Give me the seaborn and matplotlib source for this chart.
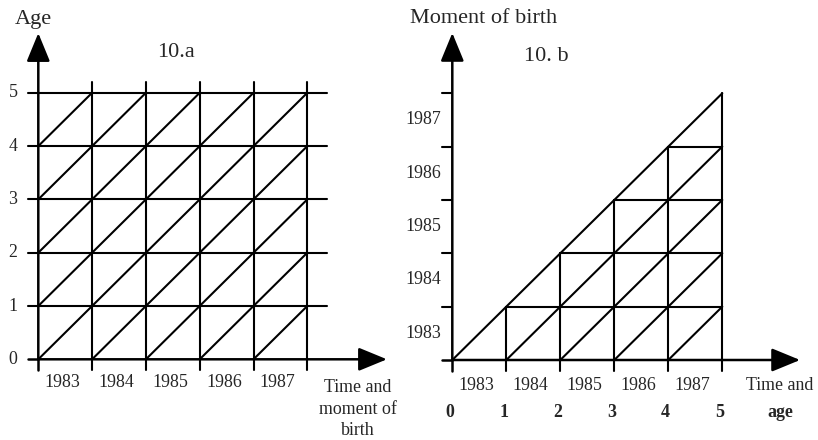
import numpy as np
import pandas as pd
import matplotlib
matplotlib.use("Agg")
import matplotlib.pyplot as plt
import seaborn as sns

# ---- data ----
years = [1983, 1984, 1985, 1986, 1987]
ages = [0, 1, 2, 3, 4, 5]
age_labels_b = ["0", "1", "2", "3", "4", "5"]
birth_years = [1983, 1984, 1985, 1986, 1987]

sns.set_theme(style="white")
plt.rcParams["font.family"] = ["Liberation Serif", "DejaVu Serif"]

W, H = 818, 440
fig = plt.figure(figsize=(W / 100, H / 100), dpi=100)

def make_axes(px0, px1, ox, oy, ux, uy):
    ax = fig.add_axes([px0 / W, 0, (px1 - px0) / W, 1])
    ax.set_xlim((px0 - ox) / ux, (px1 - ox) / ux)
    ax.set_ylim((oy - H) / uy, oy / uy)
    ax.set_axis_off()
    return ax

axA = make_axes(0, 409, 38.3, 359.3, 53.8, 53.3)
axB = make_axes(409, 818, 452.3, 360.0, 54.0, 53.35)

LW = 1.5
TICK = 12.9
TITLE = 16
n = len(years)
ext = 0.2  # how far lines overshoot the grid

def draw_segments(ax, segs):
    rows = []
    for k, ((x0, y0), (x1, y1)) in enumerate(segs):
        rows.append({"x": x0, "y": y0, "seg": k})
        rows.append({"x": x1, "y": y1, "seg": k})
    df = pd.DataFrame(rows)
    sns.lineplot(data=df, x="x", y="y", units="seg", estimator=None,
                 sort=False, color="black", lw=LW, ax=ax, legend=False)
    ax.set_xlabel("")
    ax.set_ylabel("")

def arrow(ax, start, tip):
    ax.annotate("", xy=tip, xytext=start,
                arrowprops=dict(arrowstyle="-|>,head_length=1.75,head_width=0.72",
                                mutation_scale=10, lw=1.8, color="black",
                                shrinkA=0, shrinkB=0))

# ---------------- Panel 10.a ----------------
segs = []
top = ages[-1]
for a in ages[1:]:
    segs.append(((-ext, a), (n + ext * 1.85, a)))
for i in range(1, n + 1):
    segs.append(((i, -ext), (i, top + ext)))
for i in range(n):
    for a in ages[:-1]:
        segs.append(((i, a), (i + 1, a + 1)))
draw_segments(axA, segs)
axA.plot([-ext, 0], [0, 0], color="black", lw=1.8)
axA.plot([0, 0], [-ext, 0], color="black", lw=1.8)
arrow(axA, (0, 0), (0, 6.12))
arrow(axA, (0, 0), (6.48, 0))

for a in ages:
    axA.text(-0.47, a, str(a), ha="center", va="center", fontsize=TICK)
for i, yr in enumerate(years):
    axA.text(i + 0.45, -0.43, str(yr), ha="center", va="center", fontsize=TICK)
axA.text(5.94, -0.37, "Time and\nmoment of\nbirth", ha="center", va="top",
         fontsize=TICK, linespacing=1.36)
axA.text(-0.1, 6.37, "Age", ha="center", va="center", fontsize=TITLE)
axA.text(2.56, 5.75, "10.a", ha="center", va="center", fontsize=TITLE)

# ---------------- Panel 10.b ----------------
segs = []
m = len(birth_years)
segs.append(((0, 0), (m, m)))                 # cohort of first birth
segs.append(((m, -ext), (m, m)))               # last time line
for i in range(1, m):
    segs.append(((i, -ext), (i, i)))           # time lines
    segs.append(((i, i), (m, i)))              # birth-year lines
    segs.append(((i, 0), (m, m - i)))          # cohort lines
for j in range(1, m + 1):
    segs.append(((-ext, j), (0, j)))           # y ticks
draw_segments(axB, segs)
axB.plot([-ext, 0], [0, 0], color="black", lw=1.8)
axB.plot([0, 0], [-ext, 0], color="black", lw=1.8)
arrow(axB, (0, 0), (0, 6.13))
arrow(axB, (0, 0), (6.44, 0))

for j, yr in enumerate(birth_years):
    axB.text(-0.54, j + 0.5, str(yr), ha="center", va="center", fontsize=TICK)
for i, yr in enumerate(years):
    axB.text(i + 0.45, -0.47, str(yr), ha="center", va="center", fontsize=TICK)
for i, lab in enumerate(age_labels_b):
    axB.text(i - 0.05, -0.975, lab, ha="center", va="center",
             fontsize=TICK, fontweight="bold")
axB.text(6.07, -0.47, "Time and", ha="center", va="center", fontsize=TICK)
axB.text(6.07, -0.975, "age", ha="center", va="center", fontsize=TICK,
         fontweight="bold")
axB.text(0.57, 6.40, "Moment of birth", ha="center", va="center", fontsize=TITLE)
axB.text(1.75, 5.68, "10. b", ha="center", va="center", fontsize=TITLE)

fig.savefig("out.png", dpi=100)
